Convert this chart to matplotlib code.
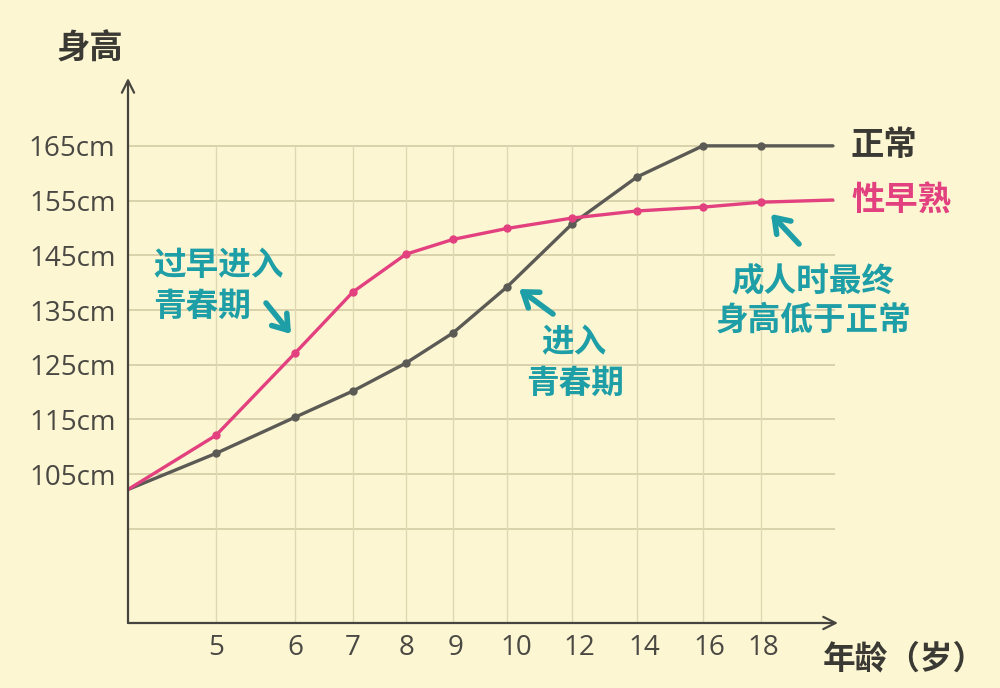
import numpy as np
import matplotlib
matplotlib.use("Agg")
from matplotlib import pyplot as plt
from matplotlib.scale import FuncScale
from matplotlib.transforms import ScaledTranslation

plt.rcParams['font.family'] = ['Noto Sans CJK SC', 'DejaVu Sans']

# data
ages = [4, 5, 6, 7, 8, 9, 10, 12, 14, 16, 18, 20]
normal = [102.2, 108.8, 115.4, 120.2, 125.3, 130.8, 139.2, 150.7, 159.3, 165.0, 165.0, 165.0]
early = [102.2, 112.1, 127.1, 138.3, 145.2, 147.9, 149.9, 151.8, 153.1, 153.8, 154.7, 155.1]
tick_ages = [5, 6, 7, 8, 9, 10, 12, 14, 16, 18]
tick_heights = [105, 115, 125, 135, 145, 155, 165]
grid_heights = [95, 105, 115, 125, 135, 145, 155, 165]

# the age axis in the picture is not even: knots of the drawn scale
knot_age = [4, 5, 6, 7, 8, 9, 10, 12, 14, 16, 18, 20, 21]
knot_pos = [128, 216, 295, 353, 406, 453, 507, 572, 637, 703, 761, 833, 870]
# tick labels sit a little right of their grid lines in the picture (px)
label_shift = [0, 0, 0, 1, 3, 9, 7, 7, 7, 2]

bg = '#fcf6d2'
grey = '#5b5a55'
pink = '#e2407f'
teal = '#1e9ea6'
dark = '#3b3934'

fig = plt.figure(figsize=(10, 6.88), dpi=100, facecolor=bg)
ax = fig.add_axes([0.128, 65 / 688, 0.710, 545 / 688], facecolor=bg)

ax.set_xscale(FuncScale(ax.xaxis, (lambda a: np.interp(a, knot_age, knot_pos),
                                   lambda p: np.interp(p, knot_pos, knot_age))))
ax.set_xlim(4, 20.14)
ax.set_ylim(77.8, 177.4)

# grid
ax.hlines(grid_heights, 4, 20.05, color='#d3cba2', lw=1.2, zorder=1)
ax.vlines(tick_ages, 77.8, 165, color='#e0d8b2', lw=1.0, zorder=1)

ax.plot(ages, normal, color=grey, lw=2.4, zorder=3, solid_capstyle='round', solid_joinstyle='round')
ax.plot(ages[1:-1], normal[1:-1], 'o', color=grey, ms=5, zorder=4)
ax.plot(ages, early, color=pink, lw=2.4, zorder=3, solid_capstyle='round', solid_joinstyle='round')
ax.plot(ages[1:-1], early[1:-1], 'o', color=pink, ms=5, zorder=4)

for s in ax.spines.values():
    s.set_visible(False)
ax.annotate('', xy=(0, 1), xytext=(0, 0), xycoords='axes fraction',
            arrowprops=dict(arrowstyle='->', lw=1.6, color='#45443f', mutation_scale=22, shrinkA=0, shrinkB=0))
ax.annotate('', xy=(1, 0), xytext=(0, 0), xycoords='axes fraction',
            arrowprops=dict(arrowstyle='->', lw=1.6, color='#45443f', mutation_scale=22, shrinkA=0, shrinkB=0))

ax.set_xticks(tick_ages)
ax.set_xticklabels([str(a) for a in tick_ages])
ax.set_yticks(tick_heights)
ax.set_yticklabels([f'{h}cm' for h in tick_heights])
ax.tick_params(length=0, labelsize=20, labelcolor='#4a4843')
ax.tick_params(axis='x', pad=8)
ax.tick_params(axis='y', pad=9)
for lab in ax.get_xticklabels() + ax.get_yticklabels():
    lab.set_family(['Open Sans', 'DejaVu Sans'])
for lab, sh in zip(ax.get_xticklabels(), label_shift):
    lab.set_transform(lab.get_transform() + ScaledTranslation(sh / 100, 0, fig.dpi_scale_trans))


def fx(p):
    return p / 1000


def fy(p):
    return 1 - p / 688


fig.text(fx(90), fy(49), '身高', ha='center', va='center', fontsize=24, fontweight='bold', color=dark)
fig.text(fx(823), fy(659), '年龄（岁）', ha='left', va='center', fontsize=23.5, fontweight='bold', color=dark)
fig.text(fx(851), fy(145), '正常', ha='left', va='center', fontsize=24, fontweight='bold', color=dark)
fig.text(fx(851), fy(200), '性早熟', ha='left', va='center', fontsize=24, fontweight='bold', color=pink)

tk = dict(fontsize=23.5, fontweight='bold', color=teal, va='center')
fig.text(fx(153), fy(266), '过早进入', ha='left', **tk)
fig.text(fx(153), fy(306), '青春期', ha='left', **tk)
fig.text(fx(574), fy(343), '进入', ha='center', **tk)
fig.text(fx(575), fy(383), '青春期', ha='center', **tk)
fig.text(fx(813), fy(281), '成人时最终', ha='center', **tk)
fig.text(fx(813), fy(320), '身高低于正常', ha='center', **tk)

ap = dict(arrowstyle='->, head_length=0.5, head_width=0.35', lw=4, color=teal,
          mutation_scale=20, shrinkA=0, shrinkB=0, capstyle='round', joinstyle='round')
ax.annotate('', xy=(fx(291), fy(334)), xytext=(fx(266), fy(303)), xycoords='figure fraction', arrowprops=ap)
ax.annotate('', xy=(fx(519), fy(289)), xytext=(fx(553), fy(314)), xycoords='figure fraction', arrowprops=ap)
ax.annotate('', xy=(fx(771), fy(214)), xytext=(fx(799), fy(244)), xycoords='figure fraction', arrowprops=ap)

fig.savefig('out.png', dpi=100, facecolor=bg)
